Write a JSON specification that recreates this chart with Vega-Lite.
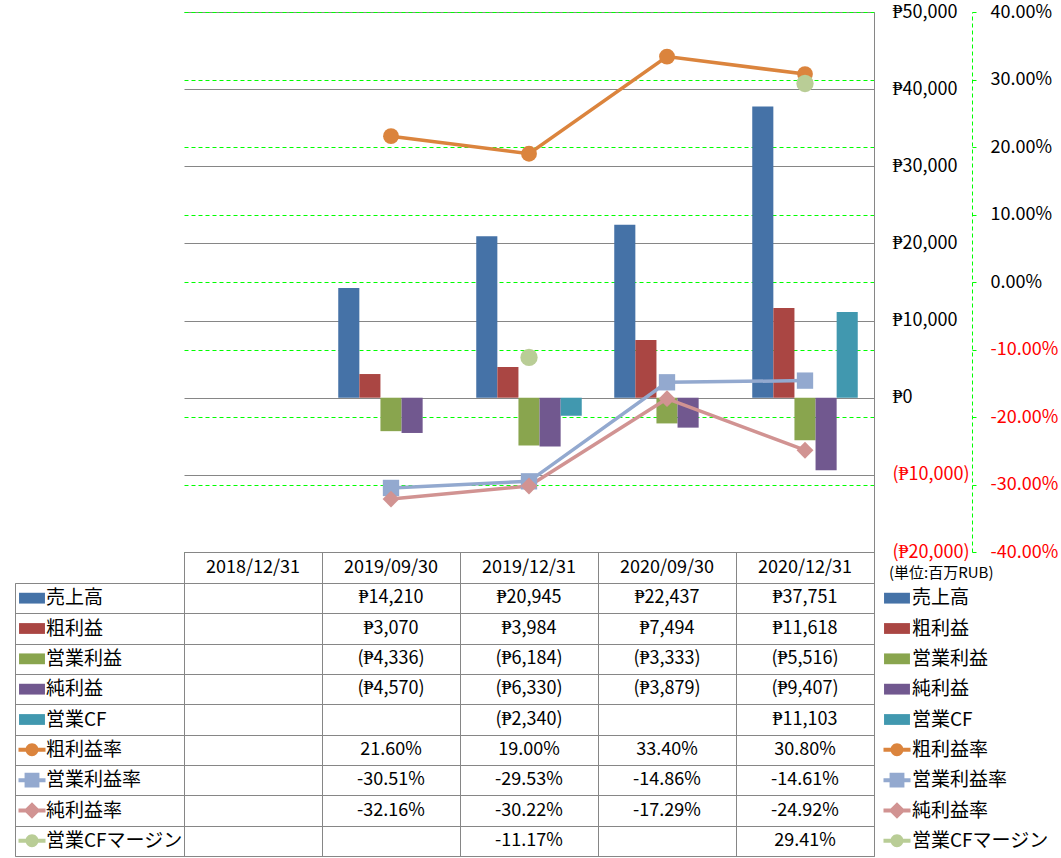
{
  "$schema": "https://vega.github.io/schema/vega-lite/v6.json",
  "padding": {"left": 14, "top": 3, "right": 0, "bottom": 0},
  "background": "white",
  "config": {
    "locale": {"number": {"decimal": ".", "thousands": ",", "grouping": [3], "currency": ["₱", ""], "minus": "-", "percent": "%"}},
    "view": {"stroke": null},
    "font": "Noto Sans CJK JP",
    "text": {"font": "Noto Sans CJK JP", "fontSize": 18, "color": "#000000"},
    "axis": {"labelFont": "Noto Sans CJK JP", "labelFontSize": 18, "labelColor": "#000000"},
    "concat": {"spacing": 0}
  },
  "resolve": {"scale": {"shape": "independent", "size": "independent"}},
  "datasets": {
    "main": [
      {"series": "売上高", "kind": "amount", "date": "2019/09/30", "value": 14210},
      {"series": "売上高", "kind": "amount", "date": "2019/12/31", "value": 20945},
      {"series": "売上高", "kind": "amount", "date": "2020/09/30", "value": 22437},
      {"series": "売上高", "kind": "amount", "date": "2020/12/31", "value": 37751},
      {"series": "粗利益", "kind": "amount", "date": "2019/09/30", "value": 3070},
      {"series": "粗利益", "kind": "amount", "date": "2019/12/31", "value": 3984},
      {"series": "粗利益", "kind": "amount", "date": "2020/09/30", "value": 7494},
      {"series": "粗利益", "kind": "amount", "date": "2020/12/31", "value": 11618},
      {"series": "営業利益", "kind": "amount", "date": "2019/09/30", "value": -4336},
      {"series": "営業利益", "kind": "amount", "date": "2019/12/31", "value": -6184},
      {"series": "営業利益", "kind": "amount", "date": "2020/09/30", "value": -3333},
      {"series": "営業利益", "kind": "amount", "date": "2020/12/31", "value": -5516},
      {"series": "純利益", "kind": "amount", "date": "2019/09/30", "value": -4570},
      {"series": "純利益", "kind": "amount", "date": "2019/12/31", "value": -6330},
      {"series": "純利益", "kind": "amount", "date": "2020/09/30", "value": -3879},
      {"series": "純利益", "kind": "amount", "date": "2020/12/31", "value": -9407},
      {"series": "営業CF", "kind": "amount", "date": "2019/12/31", "value": -2340},
      {"series": "営業CF", "kind": "amount", "date": "2020/12/31", "value": 11103},
      {"series": "粗利益率", "kind": "ratio", "date": "2019/09/30", "value": 0.216},
      {"series": "粗利益率", "kind": "ratio", "date": "2019/12/31", "value": 0.19},
      {"series": "粗利益率", "kind": "ratio", "date": "2020/09/30", "value": 0.334},
      {"series": "粗利益率", "kind": "ratio", "date": "2020/12/31", "value": 0.308},
      {"series": "営業利益率", "kind": "ratio", "date": "2019/09/30", "value": -0.3051},
      {"series": "営業利益率", "kind": "ratio", "date": "2019/12/31", "value": -0.2953},
      {"series": "営業利益率", "kind": "ratio", "date": "2020/09/30", "value": -0.1486},
      {"series": "営業利益率", "kind": "ratio", "date": "2020/12/31", "value": -0.1461},
      {"series": "純利益率", "kind": "ratio", "date": "2019/09/30", "value": -0.3216},
      {"series": "純利益率", "kind": "ratio", "date": "2019/12/31", "value": -0.3022},
      {"series": "純利益率", "kind": "ratio", "date": "2020/09/30", "value": -0.1729},
      {"series": "純利益率", "kind": "ratio", "date": "2020/12/31", "value": -0.2492},
      {"series": "営業CFマージン", "kind": "ratio", "date": "2019/12/31", "value": -0.1117},
      {"series": "営業CFマージン", "kind": "ratio", "date": "2020/12/31", "value": 0.2941}
    ],
    "dates": [
      {"date": "2018/12/31"}, {"date": "2019/09/30"}, {"date": "2019/12/31"}, {"date": "2020/09/30"}, {"date": "2020/12/31"}
    ],
    "series": [
      {"series": "売上高", "kind": "amount"},
      {"series": "粗利益", "kind": "amount"},
      {"series": "営業利益", "kind": "amount"},
      {"series": "純利益", "kind": "amount"},
      {"series": "営業CF", "kind": "amount"},
      {"series": "粗利益率", "kind": "ratio"},
      {"series": "営業利益率", "kind": "ratio"},
      {"series": "純利益率", "kind": "ratio"},
      {"series": "営業CFマージン", "kind": "ratio"}
    ],
    "note": [{"note": "(単位:百万RUB)"}]
  },
  "columns": 3,
  "align": "each",
  "bounds": "flush",
  "spacing": 0,
  "concat": [
    {"width": 169, "height": 540, "data": {"values": [{}]}, "mark": {"type": "text", "text": ""}, "encoding": {}},
    {
      "width": 690, "height": 540,
      "data": {"name": "main"},
      "encoding": {
        "x": {"field": "date", "type": "nominal", "scale": {"domain": ["2018/12/31","2019/09/30","2019/12/31","2020/09/30","2020/12/31"], "paddingInner": 0, "paddingOuter": 0}, "axis": null}
      },
      "layer": [
        {
          "transform": [{"filter": "datum.kind == 'amount'"}],
          "mark": {"type": "bar"},
          "encoding": {
            "xOffset": {"field": "series", "type": "nominal", "scale": {"domain": ["売上高","粗利益","営業利益","純利益","営業CF"], "paddingInner": 0, "paddingOuter": 0.77}},
            "y": {"field": "value", "type": "quantitative", "scale": {"domain": [-20000, 50000], "nice": false, "zero": false},
              "axis": {"orient": "right", "values": [-20000,-10000,0,10000,20000,30000,40000,50000], "format": "($,.0f", "grid": true, "gridColor": "#868686", "gridWidth": 1, "domain": true, "domainColor": "#868686", "ticks": false, "tickSize": 0, "labelPadding": 18, "labelAlign": "left", "title": null,
                "labelColor": {"condition": {"test": "datum.value < 0", "value": "#FF0000"}, "value": "#000000"}}},
            "color": {"field": "series", "type": "nominal", "legend": null,
              "scale": {"domain": ["売上高","粗利益","営業利益","純利益","営業CF","粗利益率","営業利益率","純利益率","営業CFマージン"], "range": ["#4572A7","#AA4643","#89A54E","#71588F","#4198AF","#DB843D","#93A9CF","#D19392","#B9CD96"]}}
          }
        },
        {
          "encoding": {
            "y": {"field": "value", "type": "quantitative", "scale": {"domain": [-0.4, 0.4], "nice": false, "zero": false},
              "axis": {"orient": "right", "offset": 98, "values": [-0.4,-0.3,-0.2,-0.1,0,0.1,0.2,0.3,0.4], "format": ".2%", "grid": true, "gridColor": "#00FF00", "gridDash": [4, 3], "gridWidth": 1, "domain": true, "domainColor": "#00FF00", "domainDash": [4, 3], "ticks": true, "tickColor": "#00FF00", "tickSize": 4, "labelPadding": 14, "labelAlign": "left", "title": null,
                "labelColor": {"condition": {"test": "datum.value < 0", "value": "#FF0000"}, "value": "#000000"}}},
            "color": {"field": "series", "type": "nominal", "legend": null,
              "scale": {"domain": ["売上高","粗利益","営業利益","純利益","営業CF","粗利益率","営業利益率","純利益率","営業CFマージン"], "range": ["#4572A7","#AA4643","#89A54E","#71588F","#4198AF","#DB843D","#93A9CF","#D19392","#B9CD96"]}}
          },
          "layer": [
            {"transform": [{"filter": "datum.kind == 'ratio' && datum.series != '営業CFマージン'"}], "mark": {"type": "line", "strokeWidth": 3.5}, "encoding": {}},
            {"transform": [{"filter": "datum.kind == 'ratio'"}], "mark": {"type": "point", "filled": true, "opacity": 1, "strokeWidth": 0},
              "encoding": {
                "shape": {"field": "series", "type": "nominal", "legend": null, "scale": {"domain": ["粗利益率","営業利益率","純利益率","営業CFマージン"], "range": ["circle","square","diamond","circle"]}},
                "size": {"field": "series", "type": "nominal", "legend": null, "scale": {"domain": ["粗利益率","営業利益率","純利益率","営業CFマージン"], "range": [250, 300, 480, 250]}}
              }}
          ]
        }
      ],
      "resolve": {"scale": {"y": "independent"}, "axis": {"y": "independent"}}
    },
    {"width": 185, "height": 540, "data": {"values": [{}]}, "mark": {"type": "text", "text": ""}, "encoding": {}},
    {"width": 169, "height": 31, "data": {"values": [{}]}, "mark": {"type": "text", "text": ""}, "encoding": {}},
    {
      "width": 690, "height": 31,
      "view": {"stroke": "#868686", "strokeWidth": 1},
      "data": {"name": "dates"},
      "mark": {"type": "text", "fontSize": 18, "baseline": "middle"},
      "encoding": {
        "x": {"field": "date", "type": "nominal", "scale": {"domain": ["2018/12/31","2019/09/30","2019/12/31","2020/09/30","2020/12/31"], "paddingInner": 0, "paddingOuter": 0},
          "axis": {"grid": true, "tickBand": "extent", "gridColor": "#868686", "labels": false, "ticks": false, "domain": false, "title": null}},
        "text": {"field": "date"}
      }
    },
    {
      "width": 185, "height": 31,
      "data": {"name": "note"},
      "mark": {"type": "text", "fontSize": 15, "align": "left", "baseline": "middle", "dy": 5, "dx": -8},
      "encoding": {
        "x": {"datum": "sym", "type": "nominal", "scale": {"type": "point", "domain": ["sym"], "padding": 0.5, "align": 0.1243}, "axis": null},
        "text": {"field": "note"}
      }
    },
    {
      "width": 169, "height": 273,
      "view": {"stroke": "#868686", "strokeWidth": 1},
      "data": {"name": "series"},
      "encoding": {
        "y": {"field": "series", "type": "nominal", "scale": {"domain": ["売上高","粗利益","営業利益","純利益","営業CF","粗利益率","営業利益率","純利益率","営業CFマージン"], "paddingInner": 0, "paddingOuter": 0},
          "axis": {"orient": "right", "grid": true, "tickBand": "extent", "gridColor": "#868686", "labels": false, "ticks": false, "domain": false, "title": null}}
      },
      "layer": [
        {
          "mark": {"type": "point", "filled": true, "opacity": 1, "strokeWidth": 0, "size": 729},
          "encoding": {
            "x": {"datum": "sym", "type": "nominal", "scale": {"type": "point", "domain": ["sym"], "padding": 0.5, "align": 0.1006}, "axis": null},
            "shape": {"field": "series", "type": "nominal", "legend": null, "scale": {"domain": ["売上高","粗利益","営業利益","純利益","営業CF","粗利益率","営業利益率","純利益率","営業CFマージン"],
              "range": ["M-0.96,-0.4H0.96V0.4H-0.96Z","M-0.96,-0.4H0.96V0.4H-0.96Z","M-0.96,-0.4H0.96V0.4H-0.96Z","M-0.96,-0.4H0.96V0.4H-0.96Z","M-0.96,-0.4H0.96V0.4H-0.96Z",
                "M-1,-0.15H1V0.15H-1Z M0.48,0A0.48,0.48 0 1 1 -0.48,0A0.48,0.48 0 1 1 0.48,0Z",
                "M-1,-0.15H1V0.15H-1Z M-0.55,-0.55H0.55V0.55H-0.55Z",
                "M-1,-0.15H1V0.15H-1Z M0,-0.62L0.62,0L0,0.62L-0.62,0Z",
                "M-1,-0.15H1V0.15H-1Z M0.48,0A0.48,0.48 0 1 1 -0.48,0A0.48,0.48 0 1 1 0.48,0Z"]}},
            "color": {"field": "series", "type": "nominal", "legend": null,
              "scale": {"domain": ["売上高","粗利益","営業利益","純利益","営業CF","粗利益率","営業利益率","純利益率","営業CFマージン"], "range": ["#4572A7","#AA4643","#89A54E","#71588F","#4198AF","#DB843D","#93A9CF","#D19392","#B9CD96"]}}
          }
        },
        {
          "mark": {"type": "text", "align": "left", "baseline": "middle", "fontSize": 19, "dx": 14},
          "encoding": {
            "x": {"datum": "sym", "type": "nominal", "scale": {"type": "point", "domain": ["sym"], "padding": 0.5, "align": 0.1006}, "axis": null},
            "text": {"field": "series"}
          }
        }
      ]
    },
    {
      "width": 690, "height": 273,
      "view": {"stroke": "#868686", "strokeWidth": 1},
      "data": {"name": "main"},
      "encoding": {
        "x": {"field": "date", "type": "nominal", "scale": {"domain": ["2018/12/31","2019/09/30","2019/12/31","2020/09/30","2020/12/31"], "paddingInner": 0, "paddingOuter": 0},
          "axis": {"grid": true, "tickBand": "extent", "gridColor": "#868686", "labels": false, "ticks": false, "domain": false, "title": null}},
        "y": {"field": "series", "type": "nominal", "scale": {"domain": ["売上高","粗利益","営業利益","純利益","営業CF","粗利益率","営業利益率","純利益率","営業CFマージン"], "paddingInner": 0, "paddingOuter": 0},
          "axis": {"orient": "right", "grid": true, "tickBand": "extent", "gridColor": "#868686", "labels": false, "ticks": false, "domain": false, "title": null}}
      },
      "layer": [
        {"transform": [{"filter": "datum.kind == 'amount'"}], "mark": {"type": "text", "fontSize": 18, "baseline": "middle"}, "encoding": {"text": {"field": "value", "type": "quantitative", "format": "($,.0f"}}},
        {"transform": [{"filter": "datum.kind == 'ratio'"}], "mark": {"type": "text", "fontSize": 18, "baseline": "middle"}, "encoding": {"text": {"field": "value", "type": "quantitative", "format": ".2%"}}}
      ]
    },
    {
      "width": 185, "height": 273,
      "data": {"name": "series"},
      "encoding": {
        "y": {"field": "series", "type": "nominal", "scale": {"domain": ["売上高","粗利益","営業利益","純利益","営業CF","粗利益率","営業利益率","純利益率","営業CFマージン"], "paddingInner": 0, "paddingOuter": 0}, "axis": null}
      },
      "layer": [
        {
          "mark": {"type": "point", "filled": true, "opacity": 1, "strokeWidth": 0, "size": 729},
          "encoding": {
            "x": {"datum": "sym", "type": "nominal", "scale": {"type": "point", "domain": ["sym"], "padding": 0.5, "align": 0.1243}, "axis": null},
            "shape": {"field": "series", "type": "nominal", "legend": null, "scale": {"domain": ["売上高","粗利益","営業利益","純利益","営業CF","粗利益率","営業利益率","純利益率","営業CFマージン"],
              "range": ["M-0.96,-0.4H0.96V0.4H-0.96Z","M-0.96,-0.4H0.96V0.4H-0.96Z","M-0.96,-0.4H0.96V0.4H-0.96Z","M-0.96,-0.4H0.96V0.4H-0.96Z","M-0.96,-0.4H0.96V0.4H-0.96Z",
                "M-1,-0.15H1V0.15H-1Z M0.48,0A0.48,0.48 0 1 1 -0.48,0A0.48,0.48 0 1 1 0.48,0Z",
                "M-1,-0.15H1V0.15H-1Z M-0.55,-0.55H0.55V0.55H-0.55Z",
                "M-1,-0.15H1V0.15H-1Z M0,-0.62L0.62,0L0,0.62L-0.62,0Z",
                "M-1,-0.15H1V0.15H-1Z M0.48,0A0.48,0.48 0 1 1 -0.48,0A0.48,0.48 0 1 1 0.48,0Z"]}},
            "color": {"field": "series", "type": "nominal", "legend": null,
              "scale": {"domain": ["売上高","粗利益","営業利益","純利益","営業CF","粗利益率","営業利益率","純利益率","営業CFマージン"], "range": ["#4572A7","#AA4643","#89A54E","#71588F","#4198AF","#DB843D","#93A9CF","#D19392","#B9CD96"]}}
          }
        },
        {
          "mark": {"type": "text", "align": "left", "baseline": "middle", "fontSize": 19, "dx": 15},
          "encoding": {
            "x": {"datum": "sym", "type": "nominal", "scale": {"type": "point", "domain": ["sym"], "padding": 0.5, "align": 0.1243}, "axis": null},
            "text": {"field": "series"}
          }
        }
      ]
    }
  ]
}
